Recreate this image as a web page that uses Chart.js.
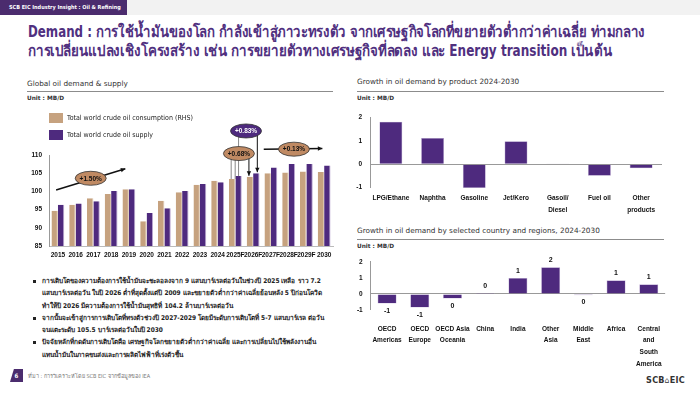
<!DOCTYPE html>
<html>
<head>
<meta charset="utf-8">
<script src="https://cdn.jsdelivr.net/npm/chart.js@4"></script>
<style>
  body { margin: 0; width: 700px; height: 394px; position: relative; overflow: hidden; background: #fff;
         font-family: "DejaVu Sans Condensed", "DejaVu Sans", sans-serif; color: #222; }
  .abs { position: absolute; }
  .topband { left: 0; top: 0; width: 700px; height: 15px; background: #f2f2f2; }
  .tab { left: 0; top: 0; width: 127px; height: 15px; background: #4b2c6e; color: #fff; font-size: 5.5px; font-weight: bold; line-height: 15px; padding-left: 9px; box-sizing: border-box; }
  .title { left: 28px; color: #50307f; font-size: 15.5px; font-weight: bold; line-height: 19px; white-space: nowrap; transform-origin: 0 0; }
  .sec { font-family: "DejaVu Sans", sans-serif; font-size: 7.3px; color: #333; white-space: nowrap; }
  .rule { height: 1px; background: #8c8c8c; }
  .unit { font-family: "DejaVu Sans", sans-serif; font-size: 5.8px; font-weight: bold; color: #333; }
  .legend { font-size: 7px; color: #222; white-space: nowrap; }
  .legend div { height: 16.5px; display: flex; align-items: center; }
  .legend span.sw { display: inline-block; width: 14px; height: 10px; margin-right: 4px; }
  .bul { left: 30px; top: 275px; width: 296px; font-size: 6.5px; font-weight: bold; color: #222; line-height: 12.3px; }
  .bul p { margin: 0; padding-left: 12px; position: relative; }
  .bul p::before { content: ""; position: absolute; left: 3px; top: 5px; width: 3px; height: 3px; background: #222; }
  .foot { left: 28px; top: 372px; font-size: 5.5px; color: #777; }
  .pg { left: 10px; top: 369px; width: 13px; height: 13px; background: #4b2c6e; color: #fff; font-size: 6px; font-weight: bold; text-align: center; line-height: 13px; clip-path: polygon(30% 0, 100% 0, 100% 100%, 0 100%); }
  .logo { left: 646px; top: 375px; font-size: 9px; font-weight: bold; color: #333; letter-spacing: 0.3px; }
</style>
</head>
<body>
<div class="abs topband"></div>
<div class="abs tab">SCB EIC Industry Insight : Oil &amp; Refining</div>
<div class="abs title" id="t1" data-w="617" style="top:23px;">Demand : การใช้น้ำมันของโลก กำลังเข้าสู่ภาวะทรงตัว จากเศรษฐกิจโลกที่ขยายตัวต่ำกว่าค่าเฉลี่ย ท่ามกลาง</div>
<div class="abs title" id="t2" data-w="584" style="top:42px;">การเปลี่ยนแปลงเชิงโครงสร้าง เช่น การขยายตัวทางเศรษฐกิจที่ลดลง และ Energy transition เป็นต้น</div>

<div class="abs sec" style="left:27px;top:79px;">Global oil demand &amp; supply</div>
<div class="abs rule" style="left:27px;top:91px;width:306px;"></div>
<div class="abs unit" style="left:27px;top:95px;">Unit : MB/D</div>

<div class="abs sec" style="left:357px;top:77px;">Growth in oil demand by product 2024-2030</div>
<div class="abs rule" style="left:357px;top:91px;width:307px;"></div>
<div class="abs unit" style="left:357px;top:95px;">Unit : MB/D</div>

<div class="abs sec" style="left:357px;top:226px;">Growth in oil demand by selected country and regions, 2024-2030</div>
<div class="abs rule" style="left:357px;top:239px;width:307px;"></div>
<div class="abs unit" style="left:357px;top:243px;">Unit : MB/D</div>

<div class="abs" style="left:20px;top:105px;width:318px;height:160px;"><canvas id="supplyChart"></canvas></div>
<div class="abs legend" id="supplyLegend" style="left:49px;top:110px;"></div>
<div class="abs" style="left:340px;top:105px;width:330px;height:114px;"><canvas id="productChart"></canvas></div>
<div class="abs" style="left:340px;top:250px;width:335px;height:125px;"><canvas id="regionChart"></canvas></div>

<div class="abs bul">
  <p>การเติบโตของความต้องการใช้น้ำมันจะชะลอลงจาก 9 แสนบาร์เรลต่อวันในช่วงปี 2025 เหลือ ราว 7.2 แสนบาร์เรลต่อวัน ในปี 2026 ต่ำที่สุดตั้งแต่ปี 2009 และขยายตัวต่ำกว่าค่าเฉลี่ยย้อนหลัง 5 ปีก่อนโควิด ทำให้ปี 2026 มีความต้องการใช้น้ำมันสุทธิที่ 104.2 ล้านบาร์เรลต่อวัน</p>
  <p>จากนั้นจะเข้าสู่การการเติบโตที่ทรงตัวช่วงปี 2027-2029 โดยมีระดับการเติบโตที่ 5-7 แสนบาร์เรล ต่อวัน จนแตะระดับ 105.5 บาร์เรลต่อวันในปี 2030</p>
  <p>ปัจจัยหลักที่กดดันการเติบโตคือ เศรษฐกิจโลกขยายตัวต่ำกว่าค่าเฉลี่ย และการเปลี่ยนไปใช้พลังงานอื่น แทนน้ำมันในภาคขนส่งและการผลิตไฟฟ้าที่เร่งตัวขึ้น</p>
</div>

<div class="abs pg">6</div>
<div class="abs foot">ที่มา : การวิเคราะห์โดย SCB EIC จากข้อมูลของ IEA</div>
<div class="abs logo">SCB<span style="font-size:8px;font-weight:normal;">&#x2302;</span>EIC</div>

<script>
const years = ['2015','2016','2017','2018','2019','2020','2021','2022','2023','2024','2025F','2026F','2027F','2028F','2029F','2030'];
const consumption = [94.7, 96.3, 98.1, 99.3, 100.6, 91.8, 97.4, 99.8, 101.8, 102.9, 103.4, 104.0, 105.0, 105.2, 105.5, 105.3];
const supply = [96.3, 96.7, 97.3, 100.1, 100.6, 94.1, 95.4, 100.1, 102.0, 102.5, 104.2, 105.0, 106.6, 107.5, 107.5, 107.1];
const supplyTicks = [85, 90, 95, 100, 105, 110];

const products = ['LPG/Ethane', 'Naphtha', 'Gasoline', 'Jet/Kero', ['Gasoil/', 'Diesel'], 'Fuel oil', ['Other', 'products']];
const productGrowth = [1.83, 1.13, -1.03, 0.99, 0.04, -0.49, -0.17];

const regions = [['OECD', 'Americas'], ['OECD', 'Europe'], ['OECD Asia', 'Oceania'], 'China', 'India', ['Other', 'Asia'], ['Middle', 'East'], 'Africa', ['Central', 'and', 'South', 'America']];
const regionGrowth = [-0.6, -0.85, -0.29, 0.06, 1.0, 1.67, -0.08, 0.85, 0.6];

const seriesNames = ['Total world crude oil consumption (RHS)', 'Total world crude oil supply'];
const tan = '#c6a27f';
const purple = '#4e2a7e';
const tickFont = { family: '"Liberation Sans", Arial, sans-serif', size: 6.5, weight: 'bold' };
const catFont = { family: '"Liberation Sans", Arial, sans-serif', size: 6.5, weight: 'bold', lineHeight: 1.8 };

// squeeze the two title lines to the width they have in the slide
['t1', 't2'].forEach(function (id) {
    const el = document.getElementById(id);
    const w = el.getBoundingClientRect().width;
    el.style.transform = 'scaleX(' + (parseFloat(el.dataset.w) / w) + ')';
});

// legend for the left chart
const legendBox = document.getElementById('supplyLegend');
[tan, purple].forEach(function (c, i) {
    const row = document.createElement('div');
    row.innerHTML = '<span class="sw" style="background:' + c + '"></span>' + seriesNames[i];
    legendBox.appendChild(row);
});

// growth bubbles + arrows on the left chart
const bubblePlugin = {
    id: 'bubbles',
    afterDatasetsDraw(chart) {
        const ctx = chart.ctx;
        const xs = chart.scales.x, ys = chart.scales.y;
        const px = function (i) { return xs.getPixelForValue(0) + i * (xs.getPixelForValue(1) - xs.getPixelForValue(0)); };
        const barX = function (ds, i) { return chart.getDatasetMeta(ds).data[i].x; };
        const barY = function (ds, i) { return chart.getDatasetMeta(ds).data[i].y; };
        ctx.save();
        function arrow(x1, y1, x2, y2, col, w) {
            ctx.strokeStyle = col; ctx.fillStyle = col; ctx.lineWidth = w;
            ctx.beginPath(); ctx.moveTo(x1, y1); ctx.lineTo(x2, y2); ctx.stroke();
            const a = Math.atan2(y2 - y1, x2 - x1);
            ctx.beginPath();
            ctx.moveTo(x2, y2);
            ctx.lineTo(x2 - 5 * Math.cos(a - 0.45), y2 - 5 * Math.sin(a - 0.45));
            ctx.lineTo(x2 - 5 * Math.cos(a + 0.45), y2 - 5 * Math.sin(a + 0.45));
            ctx.closePath(); ctx.fill();
        }
        function line(x1, y1, x2, y2, col) {
            ctx.strokeStyle = col; ctx.lineWidth = 1;
            ctx.beginPath(); ctx.moveTo(x1, y1); ctx.lineTo(x2, y2); ctx.stroke();
        }
        function bubble(x, y, txt, fill, txtCol) {
            ctx.beginPath();
            ctx.ellipse(x, y, 15.5, 7, 0, 0, Math.PI * 2);
            ctx.fillStyle = fill; ctx.fill();
            ctx.strokeStyle = '#333'; ctx.lineWidth = 0.8; ctx.stroke();
            ctx.fillStyle = txtCol;
            ctx.font = 'bold 6.5px "Liberation Sans", Arial, sans-serif';
            ctx.textAlign = 'center'; ctx.textBaseline = 'middle';
            ctx.fillText(txt, x, y + 0.5);
        }
        // +1.50% trend 2015-2019
        arrow(px(-0.1), ys.getPixelForValue(100.4), px(3.8), ys.getPixelForValue(106.2), '#111', 1.5);
        bubble(px(1.85), ys.getPixelForValue(103.6), '+1.50%', '#c08a63', '#111');
        // +0.68% consumption 2025F -> 2026F
        const b68x = px(10.2), b68y = ys.getPixelForValue(110.4);
        line(barX(0, 10) - 1, barY(0, 10), barX(0, 10) - 1, b68y, '#888');
        line(barX(0, 10) + 3, barY(0, 10), barX(0, 10) + 3, b68y, '#888');
        arrow(barX(0, 11) - 1, b68y, barX(0, 11) - 1, barY(0, 11) - 1, '#111', 1);
        // +0.83% supply 2025F -> 2026F
        const b83x = px(10.6), b83y = ys.getPixelForValue(116.6);
        line(barX(1, 10), barY(1, 10), barX(1, 10), b83y, '#888');
        arrow(barX(1, 11) + 1, b83y, barX(1, 11) + 1, barY(1, 11) - 1, '#111', 1);
        bubble(b68x, b68y, '+0.68%', '#c08a63', '#111');
        bubble(b83x, b83y, '+0.83%', purple, '#fff');
        // +0.13% trend 2027-2029
        arrow(px(11.6), ys.getPixelForValue(111.6), px(14.9), ys.getPixelForValue(111.8), '#111', 1.5);
        bubble(px(13.3), ys.getPixelForValue(111.6), '+0.13%', '#c08a63', '#111');
        ctx.restore();
    }
};

new Chart(document.getElementById('supplyChart').getContext('2d'), {
    type: 'bar',
    data: {
        labels: years,
        datasets: [
            { label: seriesNames[0], data: consumption, backgroundColor: tan, borderColor: '#d8c0a8', borderWidth: { right: 1 }, categoryPercentage: 0.72, barPercentage: 1 },
            { label: seriesNames[1], data: supply, backgroundColor: purple, borderColor: '#b9a6d0', borderWidth: { right: 1 }, categoryPercentage: 0.72, barPercentage: 1 }
        ]
    },
    options: {
        responsive: true,
        maintainAspectRatio: false,
        animation: false,
        layout: { padding: { top: 50, right: 5, left: 0, bottom: 0 } },
        plugins: { legend: { display: false }, tooltip: { enabled: false } },
        scales: {
            x: {
                grid: { display: false, drawTicks: false },
                border: { color: '#bbb' },
                ticks: { color: '#111', font: tickFont, maxRotation: 0, autoSkip: false, padding: 5 },
                afterFit: function (s) { s.height = 19; }
            },
            y: {
                min: 85, max: 110,
                afterBuildTicks: function (s) { s.ticks = supplyTicks.map(function (v) { return { value: v }; }); },
                grid: { display: false, drawTicks: false },
                border: { color: '#999' },
                ticks: { color: '#111', font: tickFont, padding: 7 },
                afterFit: function (s) { s.width = 29; }
            }
        }
    },
    plugins: [bubblePlugin]
});

// product chart
const zeroGrid = { color: function (c) { return c.tick && c.tick.value === 0 ? '#999' : 'rgba(0,0,0,0)'; }, drawTicks: false };
new Chart(document.getElementById('productChart').getContext('2d'), {
    type: 'bar',
    data: { labels: products, datasets: [{ data: productGrowth, backgroundColor: purple, borderColor: '#b9a6d0', borderWidth: 0.6, barPercentage: 0.55, categoryPercentage: 1 }] },
    options: {
        responsive: true,
        maintainAspectRatio: false,
        animation: false,
        layout: { padding: { top: 12.7, right: 8 } },
        plugins: { legend: { display: false }, tooltip: { enabled: false } },
        scales: {
            x: {
                grid: { display: false, drawTicks: false },
                border: { display: false },
                ticks: { color: '#111', font: catFont, maxRotation: 0, autoSkip: false, padding: 4.5 },
                afterFit: function (s) { s.height = 31.3; }
            },
            y: {
                min: -1, max: 2,
                ticks: { stepSize: 1, color: '#111', font: tickFont, padding: 8 },
                grid: zeroGrid,
                border: { color: '#999' },
                afterFit: function (s) { s.width = 30; }
            }
        }
    }
});

// value labels for region chart
const valueLabels = {
    id: 'valueLabels',
    afterDatasetsDraw(chart) {
        const ctx = chart.ctx;
        const meta = chart.getDatasetMeta(0);
        ctx.save();
        ctx.font = 'bold 7px "Liberation Sans", Arial, sans-serif';
        ctx.fillStyle = '#111';
        ctx.textAlign = 'center';
        ctx.textBaseline = 'middle';
        meta.data.forEach(function (bar, i) {
            const v = regionGrowth[i];
            const r = Math.round(v);
            const txt = String(r === 0 ? 0 : r);
            const y = v >= 0 ? bar.y - 7 : bar.y + 7;
            ctx.fillText(txt, bar.x, y);
        });
        ctx.restore();
    }
};

new Chart(document.getElementById('regionChart').getContext('2d'), {
    type: 'bar',
    data: { labels: regions, datasets: [{ data: regionGrowth, backgroundColor: purple, borderColor: '#b9a6d0', borderWidth: 0.6, barPercentage: 0.58, categoryPercentage: 1 }] },
    options: {
        responsive: true,
        maintainAspectRatio: false,
        animation: false,
        layout: { padding: { top: 11.7, right: 7 } },
        plugins: { legend: { display: false }, tooltip: { enabled: false } },
        scales: {
            x: {
                grid: { display: false, drawTicks: false },
                border: { display: false },
                ticks: { color: '#111', font: catFont, maxRotation: 0, autoSkip: false, padding: 13 },
                afterFit: function (s) { s.height = 65; }
            },
            y: {
                min: -1, max: 2,
                ticks: { stepSize: 1, color: '#111', font: tickFont, padding: 8 },
                grid: zeroGrid,
                border: { color: '#999' },
                afterFit: function (s) { s.width = 30.7; }
            }
        }
    },
    plugins: [valueLabels]
});
</script>
</body>
</html>
